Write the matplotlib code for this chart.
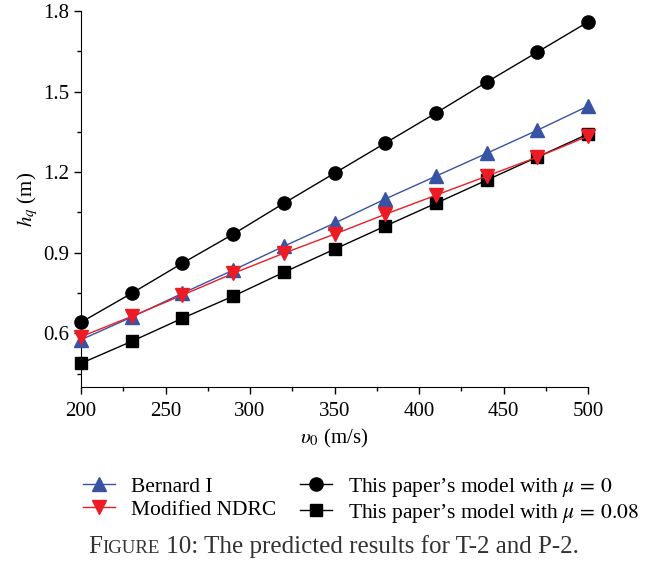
import matplotlib.pyplot as plt
import numpy as np

plt.rcParams['font.family'] = ['Liberation Serif', 'DejaVu Serif']
plt.rcParams['mathtext.fontset'] = 'stix'

v0 = [200, 230, 260, 290, 320, 350, 380, 410, 440, 470, 500]
bernard = [0.576, 0.66, 0.749, 0.835, 0.924, 1.01, 1.10, 1.185, 1.27, 1.356, 1.446]
ndrc = [0.587, 0.663, 0.742, 0.823, 0.898, 0.969, 1.043, 1.114, 1.185, 1.256, 1.334]
model_mu0 = [0.641, 0.749, 0.861, 0.969, 1.084, 1.196, 1.308, 1.42, 1.535, 1.647, 1.759]
model_mu008 = [0.488, 0.57, 0.656, 0.738, 0.827, 0.913, 0.999, 1.084, 1.17, 1.256, 1.342]

fig = plt.figure(figsize=(6.66, 5.65), dpi=100)
ax = fig.add_axes([81/666, 1-387/565, (588-81)/666, (387-11)/565])

ax.plot(v0, bernard, color='#3953a4', lw=1.0, marker='^', ms=10, label='Bernard I', clip_on=False, zorder=3)
ax.plot(v0, ndrc, color='#ed1c24', lw=1.0, marker='v', ms=10, label='Modified NDRC', clip_on=False, zorder=4)
ax.plot(v0, model_mu0, color='black', lw=1.0, marker='o', ms=9.5, label=r'This paper’s model with $\mu\,=\,0$', clip_on=False, zorder=3)
ax.plot(v0, model_mu008, color='black', lw=1.0, marker='s', ms=8.5, label=r'This paper’s model with $\mu\,=\,0.08$', clip_on=False, zorder=3)

ax.set_xlim(200, 500)
ax.set_ylim(0.4, 1.8)
ax.set_xticks(np.arange(200, 501, 50))
ax.set_xticks(np.arange(225, 500, 50), minor=True)
ax.set_yticks([0.6, 0.9, 1.2, 1.5, 1.8])
ax.set_yticks([0.45, 0.75, 1.05, 1.35, 1.65], minor=True)
ax.set_yticklabels(['0.6', '0.9', '1.2', '1.5', '1.8'])
ax.spines['top'].set_visible(False)
ax.spines['right'].set_visible(False)
ax.tick_params(which='major', direction='out', length=5, labelsize=15, width=1)
ax.tick_params(which='minor', direction='out', length=3, width=1)
ax.tick_params(axis='x', pad=6)
ax.set_xlabel(r'$\upsilon_0$ (m/s)', fontsize=15, labelpad=4)
ax.set_ylabel(r'$h_q$ (m)', fontsize=15, labelpad=2)

fig.legend(loc='upper left', bbox_to_anchor=(74/666, 1-467/565), ncol=2, frameon=False,
           fontsize=15.5, handlelength=1.5, handletextpad=0.75, columnspacing=1.1,
           labelspacing=0.15, borderaxespad=0)

# caption with small caps "Figure"
cap_y = 1 - 553/565
parts = [('F', 18), ('IGURE', 13.6), (' 10: The predicted results for T-2 and P-2.', 18)]
fig.canvas.draw()
renderer = fig.canvas.get_renderer()
x = 88
for s, fs in parts:
    t = fig.text(x/666, cap_y, s, fontsize=fs, color='#333333', va='baseline')
    x = t.get_window_extent(renderer).x1 + 0.5

fig.savefig('out.png', dpi=100)
